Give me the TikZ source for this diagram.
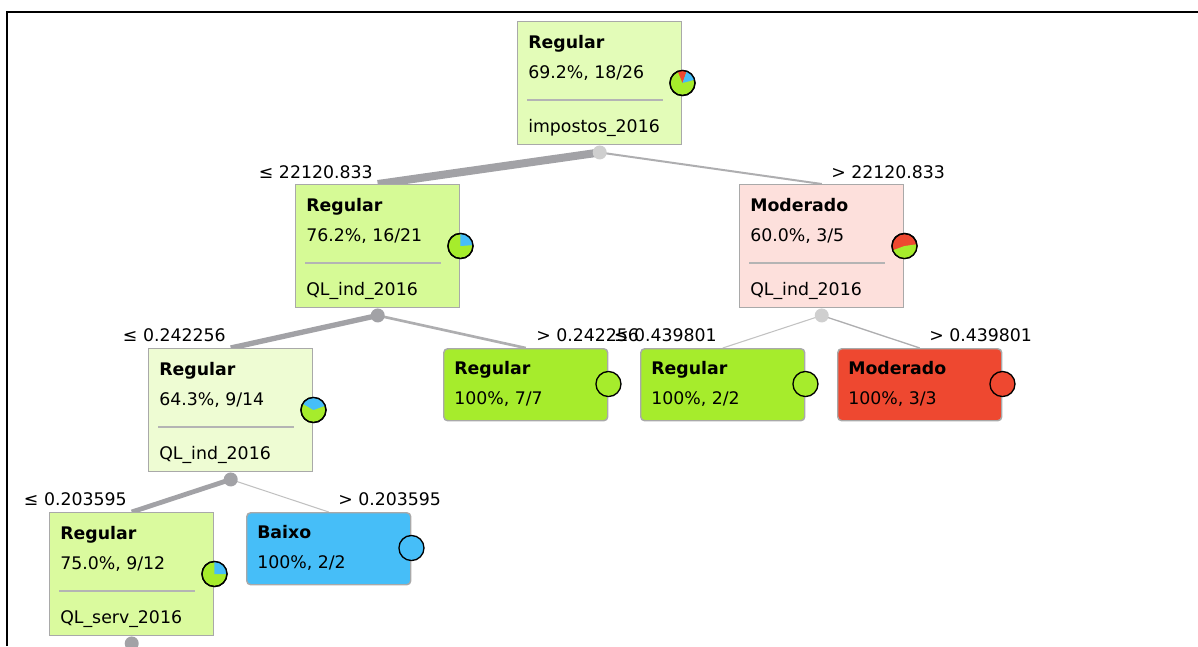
\documentclass[tikz,border=0pt]{standalone}
\usepackage{fontspec}
\setmainfont{DejaVu Sans}
\usetikzlibrary{calc,backgrounds}
\definecolor{cgreen}{HTML}{A6EC2C}
\definecolor{cred}{HTML}{EE4830}
\definecolor{cblue}{HTML}{46BEF8}
\definecolor{froot}{HTML}{E3FCB8}
\definecolor{fl1}{HTML}{D6FA96}
\definecolor{fll2}{HTML}{EEFCD3}
\definecolor{flll3}{HTML}{DAFA9E}
\definecolor{fr1}{HTML}{FDE0DC}
\definecolor{boxborder}{HTML}{A9A9A9}
\definecolor{sepcol}{HTML}{B4B4B4}
\definecolor{edark}{HTML}{A2A2A6}
\definecolor{emid}{HTML}{AEAEB0}
\definecolor{elight}{HTML}{C2C2C2}
\definecolor{dlight}{HTML}{CFCFCF}
\tikzset{
  ibox/.style={draw=boxborder, line width=1.1pt, anchor=north west,
    minimum width=123pt, minimum height=92.25pt, inner sep=0pt},
  lbox/.style={ibox, minimum height=54pt, rounded corners=3pt},
  txt/.style={anchor=base west, inner sep=0pt, font=\fontsize{13pt}{15pt}\selectfont},
  etxtL/.style={anchor=base east, inner sep=0pt, font=\fontsize{13pt}{15pt}\selectfont},
  etxtR/.style={anchor=base west, inner sep=0pt, font=\fontsize{13pt}{15pt}\selectfont},
  piecirc/.style={circle, draw=black, line width=1pt, minimum size=18.8pt, inner sep=0pt},
  splitdot/.style={circle, minimum size=10.5pt, inner sep=0pt},
  sepline/.style={draw=sepcol, line width=0.9pt},
  edge/.style={line cap=butt},
}
% internal node: name, left, top, fill, title, stats, attribute
\newcommand{\innerbox}[7]{%
  \node[ibox, fill=#4] (#1) at (#2,#3) {};
  \node[txt] (#1-t) at ($(#1.north west)+(11,27)$) {\textbf{#5}};
  \node[txt] (#1-s) at ($(#1.north west)+(11,57)$) {#6};
  \draw[sepline] ($(#1.north west)+(10,79)$) -- ($(#1.north west)+(146,79)$);
  \node[txt] (#1-a) at ($(#1.north west)+(11,111)$) {#7};
}
\newcommand{\leafbox}[6]{%
  \node[lbox, fill=#4] (#1) at (#2,#3) {};
  \node[txt] (#1-t) at ($(#1.north west)+(11,26.5)$) {\textbf{#5}};
  \node[txt] (#1-s) at ($(#1.north west)+(11,56.5)$) {#6};
}
\newcommand{\pieslice}[4]{%
  \fill[#2] (#1.center) -- ++(#3:9.4pt) arc[start angle=#3, end angle=#4, radius=9.4pt] -- cycle;
}
\newcommand{\pieborder}[1]{%
  \draw[black, line width=1pt] (#1.center) circle[radius=9.4pt];
}
\begin{document}
\begin{tikzpicture}[x=0.75pt, y=-0.75pt]
\useasboundingbox (0,0) rectangle (1198,646);
% frame
\draw[black, line width=1.4pt] (7,646) -- (7,12) -- (1198,12);

% boxes
\innerbox{root}{517}{21}{froot}{Regular}{69.2\%, 18/26}{impostos\_2016}
\innerbox{lone}{295}{184}{fl1}{Regular}{76.2\%, 16/21}{QL\_ind\_2016}
\innerbox{rone}{739}{184}{fr1}{Moderado}{60.0\%, 3/5}{QL\_ind\_2016}
\innerbox{ltwo}{148}{348}{fll2}{Regular}{64.3\%, 9/14}{QL\_ind\_2016}
\innerbox{lthree}{49}{512}{flll3}{Regular}{75.0\%, 9/12}{QL\_serv\_2016}
\leafbox{leafa}{443}{348}{cgreen}{Regular}{100\%, 7/7}
\leafbox{leafb}{640}{348}{cgreen}{Regular}{100\%, 2/2}
\leafbox{leafc}{837}{348}{cred}{Moderado}{100\%, 3/3}
\leafbox{baixo}{246}{512}{cblue}{Baixo}{100\%, 2/2}

% split dots
\node[splitdot, fill=dlight] (droot) at ($(root.south)+(0,7)$) {};
\node[splitdot, fill=edark] (dlone) at ($(lone.south)+(0,7)$) {};
\node[splitdot, fill=dlight] (drone) at ($(rone.south)+(0,7)$) {};
\node[splitdot, fill=edark] (dltwo) at ($(ltwo.south)+(0,7)$) {};
\node[splitdot, fill=edark] (dlthree) at ($(lthree.south)+(0,7)$) {};

% connectors
\begin{scope}[on background layer]
\draw[edge, draw=edark, line width=6pt] (droot.center) -- (lone.north);
\draw[edge, draw=emid, line width=1.5pt] (droot.center) -- (rone.north);
\draw[edge, draw=edark, line width=4pt] (dlone.center) -- (ltwo.north);
\draw[edge, draw=emid, line width=2pt] (dlone.center) -- (leafa.north);
\draw[edge, draw=elight, line width=0.8pt] (drone.center) -- (leafb.north);
\draw[edge, draw=emid, line width=1pt] (drone.center) -- (leafc.north);
\draw[edge, draw=edark, line width=3.6pt] (dltwo.center) -- (lthree.north);
\draw[edge, draw=elight, line width=0.8pt] (dltwo.center) -- (baixo.north);
\end{scope}

% edge labels
\node[etxtL] (lab1) at (373,178) {≤ 22120.833};
\node[etxtR] (lab2) at (831,178) {> 22120.833};
\node[etxtL] (lab3) at (226,341) {≤ 0.242256};
\node[etxtR] (lab4) at (536,341) {> 0.242256};
\node[etxtL] (lab5) at (717,341) {≤ 0.439801};
\node[etxtR] (lab6) at (929,341) {> 0.439801};
\node[etxtL] (lab7) at (127,505) {≤ 0.203595};
\node[etxtR] (lab8) at (338,505) {> 0.203595};

% pies
\node[piecirc, fill=cgreen] (proot) at ($(root.north east)+(0,62)$) {};
\pieslice{proot}{cred}{112}{70}
\pieslice{proot}{cblue}{70}{15}
\pieborder{proot}
\node[piecirc, fill=cgreen] (plone) at ($(lone.north east)+(0,62)$) {};
\pieslice{plone}{cblue}{90}{4}
\pieborder{plone}
\node[piecirc, fill=cred] (prone) at ($(rone.north east)+(0,62)$) {};
\pieslice{prone}{cgreen}{200}{368}
\pieborder{prone}
\node[piecirc, fill=cgreen] (pltwo) at ($(ltwo.north east)+(0,62)$) {};
\pieslice{pltwo}{cblue}{150}{20}
\pieborder{pltwo}
\node[piecirc, fill=cgreen] (plthree) at ($(lthree.north east)+(0,62)$) {};
\pieslice{plthree}{cblue}{90}{0}
\pieborder{plthree}
\node[piecirc, fill=cgreen] (pleafa) at ($(leafa.north east)+(0,36)$) {};
\node[piecirc, fill=cgreen] (pleafb) at ($(leafb.north east)+(0,36)$) {};
\node[piecirc, fill=cred] (pleafc) at ($(leafc.north east)+(0,36)$) {};
\node[piecirc, fill=cblue] (pbaixo) at ($(baixo.north east)+(0,36)$) {};
\end{tikzpicture}
\end{document}
